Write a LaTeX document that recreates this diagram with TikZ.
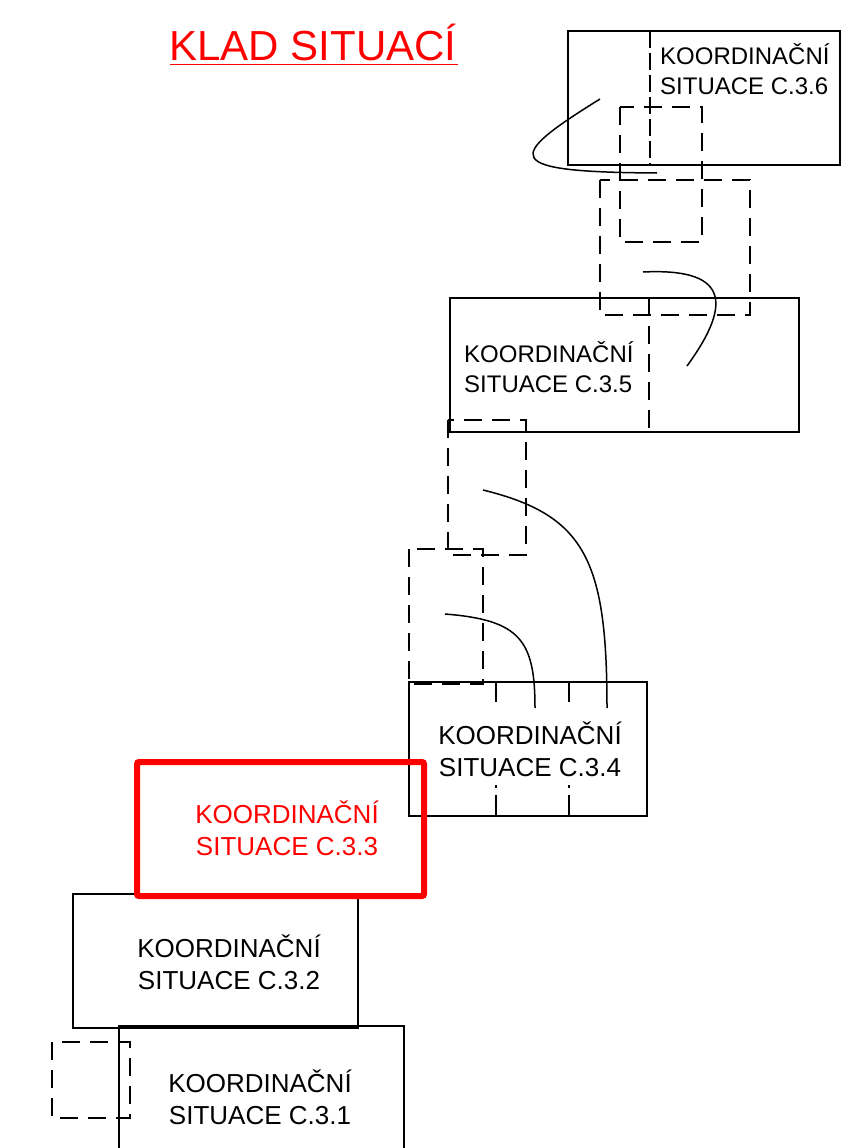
\documentclass[tikz,border=0pt]{standalone}
\usepackage{fontspec}
\setmainfont{Liberation Sans}
\tikzset{
	dashbox/.style={line width=1.5pt, dash pattern=on 18pt off 10pt},
	sitlabel/.style={align=center, font=\fontsize{26}{32}\selectfont, inner sep=0pt},
	hook/.style={line width=1.5pt}
}
\begin{document}
\begin{tikzpicture}[x=1pt, y=-1pt]
	\useasboundingbox (0,0) rectangle (857,1148);
	
	\node[text=red, font=\fontsize{42}{50}\selectfont, inner sep=0pt] (title) at (313,42) {KLAD SITUACÍ};
	\draw[red, line width=0.8pt] (170,64) -- (458,64);
	
	\draw[hook] (568,31) rectangle (840,165);
	\draw[hook, dash pattern=on 17pt off 5pt] (650,31) -- (650,165);
	\node[sitlabel, align=left, font=\fontsize{24}{30}\selectfont, anchor=west] (c36) at (660,69) {KOORDINAČNÍ\\SITUACE C.3.6};
	
	\draw[dashbox] (620,107) rectangle (702,242);
	\draw[dashbox] (600,180) rectangle (750,315);
	\draw[hook] (600,99) .. controls (505,158) and (500,172) .. (657,173);
	\draw[hook] (643,272) .. controls (725,268) and (735,300) .. (687,366);
	
	\draw[hook] (450,298) rectangle (799,432);
	\draw[dashbox] (649,298) -- (649,432);
	\node[sitlabel, align=left, font=\fontsize{24}{30}\selectfont, anchor=west] (c35) at (464,367) {KOORDINAČNÍ\\SITUACE C.3.5};
	
	\draw[dashbox] (448,420) rectangle (526,555);
	\draw[dashbox] (409,549) rectangle (483,684);
	\draw[hook] (483,490) .. controls (585,515) and (607,560) .. (607,708);
	\draw[hook] (445,614) .. controls (520,620) and (535,640) .. (535,708);
	
	\draw[hook] (409,682) rectangle (647,816);
	\foreach \tx in {496,569}{
		\draw[hook] (\tx,682) -- (\tx,702);
		\draw[hook] (\tx,785) -- (\tx,788);
		\draw[hook] (\tx,795) -- (\tx,816);
	}
	\node[sitlabel] (c34) at (530,749) {KOORDINAČNÍ\\SITUACE C.3.4};
	
	\draw[hook] (73,894) rectangle (358,1028);
	\node[sitlabel] (c32) at (229,962) {KOORDINAČNÍ\\SITUACE C.3.2};
	
	\draw[red, line width=6pt, rounded corners=2pt] (137,762) rectangle (424,896);
	\node[sitlabel, text=red] (c33) at (287,828) {KOORDINAČNÍ\\SITUACE C.3.3};
	
	\draw[hook] (119,1150) -- (119,1026) -- (404,1026) -- (404,1150);
	\node[sitlabel] (c31) at (260,1097) {KOORDINAČNÍ\\SITUACE C.3.1};
	\draw[dashbox] (52,1042) rectangle (130,1118);
	
\end{tikzpicture}
\end{document}
